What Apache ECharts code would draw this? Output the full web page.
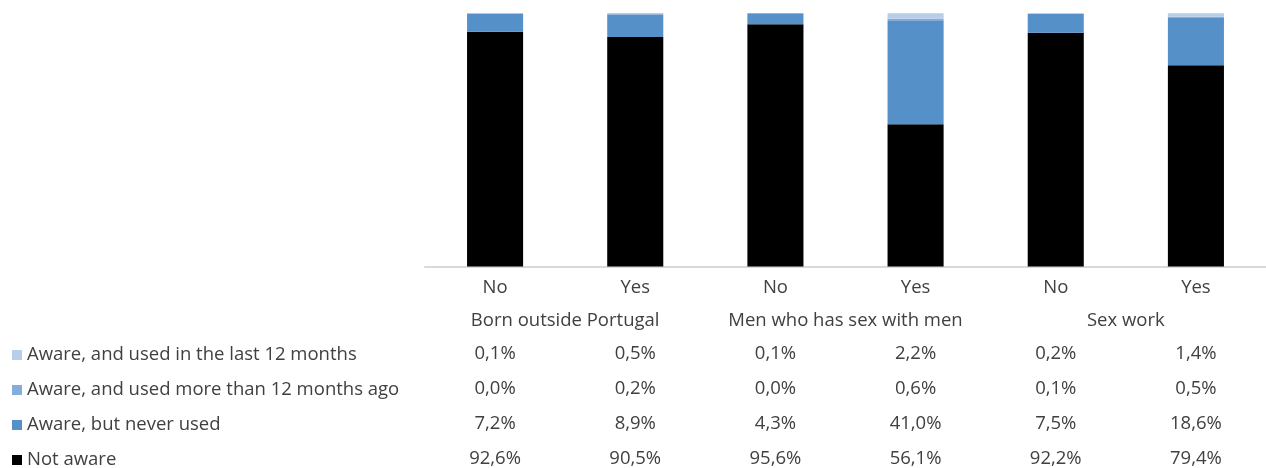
<!DOCTYPE html>
<html>
<head>
<meta charset="utf-8">
<script src="https://cdn.jsdelivr.net/npm/echarts@6/dist/echarts.min.js"></script>
<style>
  html, body { margin: 0; padding: 0; background: #ffffff; }
  #chart { width: 1266px; height: 468px; }
</style>
</head>
<body>
<div id="chart"></div>
<script>
// Awareness and use, by subgroup (percent of respondents)
const categories = ['No', 'Yes', 'No', 'Yes', 'No', 'Yes'];
const groups = ['Born outside Portugal', 'Men who has sex with men', 'Sex work'];

const notAware      = [92.6, 90.5, 95.6, 56.1, 92.2, 79.4];
const neverUsed     = [7.2, 8.9, 4.3, 41.0, 7.5, 18.6];
const usedOver12m   = [0.0, 0.2, 0.0, 0.6, 0.1, 0.5];
const usedLast12m   = [0.1, 0.5, 0.1, 2.2, 0.2, 1.4];

const seriesNames = [
  'Not aware',
  'Aware, but never used',
  'Aware, and used more than 12 months ago',
  'Aware, and used in the last 12 months'
];
const seriesValues = [notAware, neverUsed, usedOver12m, usedLast12m];
const seriesColors = ['#000000', '#5591c8', '#84acdc', '#b8cde9'];

const FONT = '"Open Sans", "Noto Sans", sans-serif';
const TEXT = '#404040';
const SIZE = 18.5;
const ROW_GAP = 35;

const fmt = v => v.toFixed(1).replace('.', ',') + '%';

// Bottom axes: category labels, group labels, then one row per series (top row = last series)
const xAxes = [{
  type: 'category',
  data: categories,
  axisLine: { show: true, lineStyle: { color: '#d9d9d9', width: 2 } },
  axisTick: { show: false },
  axisLabel: { color: TEXT, fontFamily: FONT, fontSize: SIZE, margin: 21, verticalAlign: 'middle', interval: 0 }
}, {
  type: 'category',
  data: groups,
  position: 'bottom',
  axisLine: { show: false },
  axisTick: { show: false },
  axisLabel: { color: TEXT, fontFamily: FONT, fontSize: SIZE, margin: 54, verticalAlign: 'middle', interval: 0 }
}];

const tableRows = [3, 2, 1, 0];
tableRows.forEach((si, row) => {
  xAxes.push({
    type: 'category',
    data: seriesValues[si].map(fmt),
    position: 'bottom',
    axisLine: { show: false },
    axisTick: { show: false },
    axisLabel: { color: TEXT, fontFamily: FONT, fontSize: SIZE, margin: 87 + row * ROW_GAP, verticalAlign: 'middle', interval: 0 }
  });
});

// One legend entry per table row, aligned with its row of values
const legends = tableRows.map((si, row) => ({
  orient: 'vertical',
  left: 12,
  top: 344 + row * ROW_GAP,
  padding: 0,
  itemWidth: 10,
  itemHeight: 10,
  icon: 'rect',
  selectedMode: false,
  data: [seriesNames[si]],
  textStyle: { color: TEXT, fontFamily: FONT, fontSize: SIZE, lineHeight: 22 }
}));

const chart = echarts.init(document.getElementById('chart'), null, { renderer: 'canvas' });
chart.setOption({
  animation: false,
  backgroundColor: '#ffffff',
  grid: { left: 425, top: 13, width: 855, height: 255, containLabel: false },
  legend: legends,
  xAxis: xAxes,
  yAxis: {
    type: 'value',
    min: 0,
    max: 100,
    show: false,
    splitLine: { show: false }
  },
  series: seriesNames.map((name, i) => ({
    name,
    type: 'bar',
    stack: 'total',
    xAxisIndex: 0,
    barWidth: '40%',
    itemStyle: { color: seriesColors[i] },
    data: seriesValues[i]
  }))
});
</script>
</body>
</html>
